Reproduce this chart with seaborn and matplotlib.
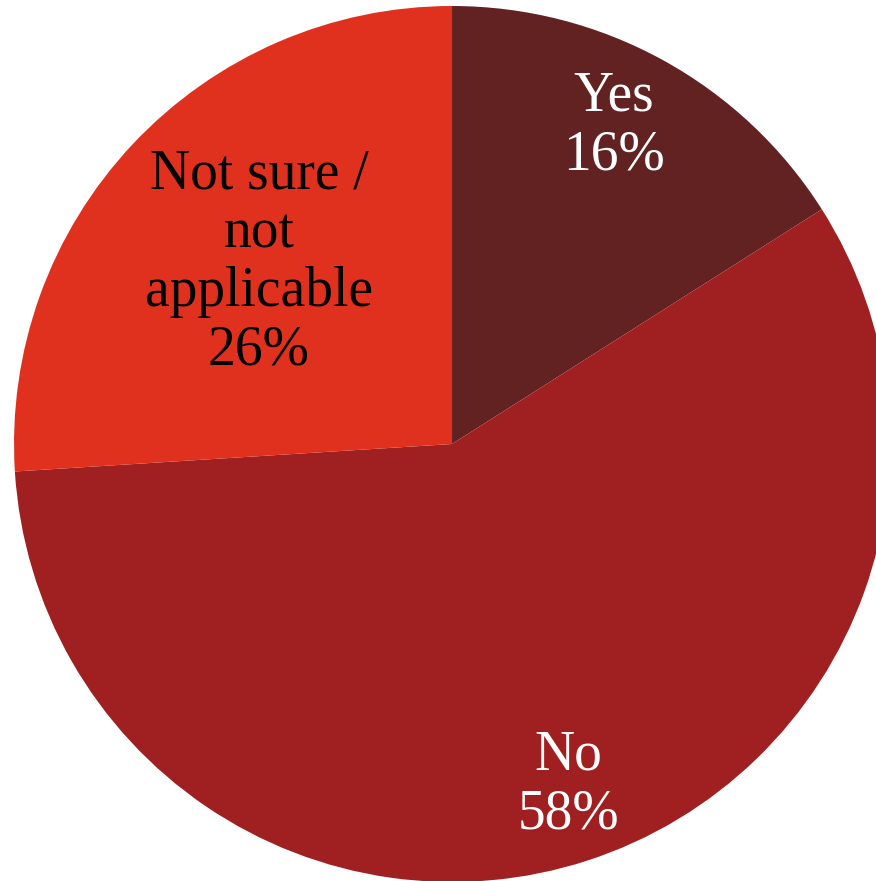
import matplotlib
matplotlib.use("Agg")
import matplotlib.pyplot as plt
import seaborn as sns
import numpy as np

sns.set_theme(style="white")
plt.rcParams["font.family"] = ["Liberation Serif", "DejaVu Serif"]

categories = ["Yes", "No", "Not sure /\nnot\napplicable"]
shares = [16, 58, 26]
colors = ["#622222", "#A01F20", "#E0311F"]
text_colors = ["white", "white", "black"]
label_radius = [0.815, 0.823, 0.605]
label_angle_shift = [1.8, 0.8, 0.0]

fig = plt.figure(figsize=(8.76, 8.81), dpi=100)
ax = fig.add_axes([0, 0, 1, 1])

wedges, _ = ax.pie(shares, colors=colors, startangle=90, counterclock=False,
                   radius=1.0, wedgeprops=dict(linewidth=0))

for w, cat, val, tc, r, da in zip(wedges, categories, shares, text_colors,
                                  label_radius, label_angle_shift):
    mid = np.deg2rad((w.theta1 + w.theta2) / 2 + da)
    ax.text(r * np.cos(mid), r * np.sin(mid), f"{cat}\n{val}%",
            ha="center", va="center", color=tc, fontsize=40,
            linespacing=1.17)

ax.set_xlim(-1.032, 0.968)
ax.set_ylim(-0.9977, 1.0137)
ax.set_aspect("auto")
ax.axis("off")

fig.savefig("out.png", dpi=100, facecolor="white")
